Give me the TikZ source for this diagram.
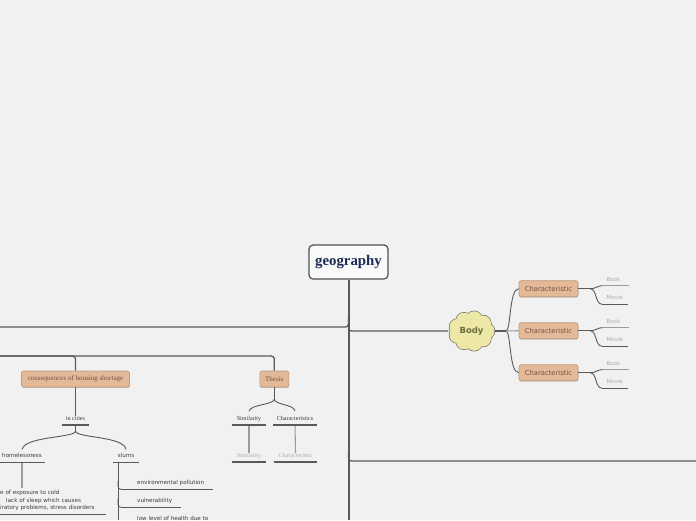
\documentclass[tikz,border=0pt]{standalone}
\usepackage{fontspec}
\setmainfont{Liberation Serif}
\setsansfont{DejaVu Sans}
\usetikzlibrary{shadows}
\definecolor{bg}{HTML}{F1F1F1}
\definecolor{linec}{HTML}{565B59}
\definecolor{lightc}{HTML}{9A9C9B}
\definecolor{tanfill}{HTML}{E3B998}
\definecolor{tanline}{HTML}{BF9A7C}
\definecolor{tantext}{HTML}{725243}
\definecolor{cloudfill}{HTML}{EDE8A6}
\definecolor{cloudtext}{HTML}{6E6A3C}
\definecolor{navy}{HTML}{1C2A56}
\definecolor{dtext}{HTML}{3A3A3A}
\definecolor{gtext}{HTML}{ABABAB}
\begin{document}
\begin{tikzpicture}[x=1pt,y=-1pt,
 conn/.style={draw=linec,line width=1.3pt},
 trunkline/.style={draw=linec,line width=2pt},
 thinline/.style={draw=linec,line width=0.9pt},
 ulline/.style={draw=linec,line width=1.1pt},
 ullight/.style={draw=lightc,line width=1.1pt},
 geonode/.style={rectangle,rounded corners=4pt,draw=linec!90!black,line width=1.2pt,fill=white!60!bg,minimum width=79pt,minimum height=34pt,inner sep=0pt,font=\bfseries\fontsize{14.8}{16}\selectfont,text=navy},
 cloudnode/.style={circle,minimum size=40pt,inner sep=0pt,font=\sffamily\bfseries\fontsize{8.5}{10}\selectfont,text=cloudtext},
 tanbox/.style={rectangle,rounded corners=2pt,fill=tanfill,draw=tanline,line width=0.6pt,inner sep=0pt,text=tantext,drop shadow={shadow xshift=0.3pt,shadow yshift=-0.9pt,opacity=0.3,fill=black!70}},
 charbox/.style={tanbox,minimum width=59pt,minimum height=16pt,font=\sffamily\fontsize{6.8}{7}\selectfont},
 lbl/.style={inner xsep=0pt,inner ysep=0pt,text height=4pt,text depth=4.5pt,anchor=south},
 sansS/.style={font=\sffamily\fontsize{5.6}{6}\selectfont,text=dtext},
 serifS/.style={font=\fontsize{6.1}{6.5}\selectfont,text=dtext},
 bm/.style={lbl,font=\sffamily\fontsize{5.4}{6}\selectfont,text=gtext,anchor=south west,align=left,text width=26pt}
]
\useasboundingbox (0,0) rectangle (696,520);
\fill[bg] (0,0) rectangle (696,520);

% central topic and trunk
\node[geonode] (geo) at (348.5,262) {geography};
\coordinate (tend) at (348.5,520);
\draw[trunkline] (geo.south) -- (tend);

\coordinate (l1) at (0,327);
\coordinate (t1) at (348.5,318);
\draw[conn,rounded corners=3pt] (l1) -| (t1);

% cloud "Body"
\foreach \a in {0,40,...,320}
  \draw[draw=linec,line width=1.1pt,fill=cloudfill] ({471.5+15*cos(\a)},{331+12*sin(\a)}) circle[radius=8pt];
\foreach \a in {0,40,...,320}
  \fill[cloudfill] ({471.5+15*cos(\a)},{331+12*sin(\a)}) circle[radius=8pt];
\fill[cloudfill] (471.5,331) ellipse[x radius=16pt,y radius=13pt];
\node[cloudnode] (body) at (471.5,331) {Body};

\coordinate (t2) at (348.5,324);
\draw[conn,rounded corners=3pt] (t2) |- ([xshift=-3pt]body.west);

\coordinate (t3) at (348.5,452);
\coordinate (r1) at (696,461);
\draw[conn,rounded corners=3pt] (t3) |- (r1);

% Body branch
\coordinate (bb) at (506,331);
\draw[conn] ([xshift=3pt]body.east) -- (bb);
\foreach \i/\y in {1/288.7,2/330.7,3/372.7}{
  \node[charbox] (ch\i) at (548.5,\y) {Characteristic};
  \coordinate (cb\i) at (590,\y);
  \node[bm] (bk\i) at (603,\y-3) {\hspace*{3.5pt}Book};
  \node[bm] (mv\i) at (602,\y+15.5) {\hspace*{4.5pt}Movie};
  \draw[conn] (ch\i.east) -- (cb\i);
  \draw[thinline] (cb\i) .. controls (597,\y) and (596,\y-3) .. (bk\i.south west);
  \draw[thinline] (cb\i) .. controls (597,\y) and (595,\y+15.5) .. (mv\i.south west);
  \draw[ullight] (bk\i.south west) -- (bk\i.south east);
  \draw[ulline] (mv\i.south west) -- (mv\i.south east);
}
\draw[thinline] (bb) .. controls (511,331) and (509,288.7) .. (ch1.west);
\draw[thinline] (bb) .. controls (511,331) and (509,372.7) .. (ch3.west);
\draw[draw=lightc,line width=1.1pt] (bb) -- (ch2.west);

% left branch
\coordinate (l2) at (0,356);
\node[tanbox,minimum width=108pt,minimum height=16pt,font=\fontsize{7}{8}\selectfont] (cons) at (75.5,379) {consequences of housing shortage};
\node[tanbox,minimum width=29pt,minimum height=16pt,font=\fontsize{7}{8}\selectfont] (thesis) at (274.3,379) {Thesis};
\draw[conn,rounded corners=3pt] (l2) -| (cons.north);
\draw[conn,rounded corners=3pt] (l2) -| (thesis.north);

\node[lbl,serifS,minimum width=27pt] (inc) at (75.5,425) {in cities};
\draw[conn] (cons.south) -- (inc.north);
\node[lbl,sansS,minimum width=46pt] (home) at (22,462.3) {homelessness};
\node[lbl,sansS,minimum width=26pt] (slums) at (126,462.3) {slums};
\coordinate (ib) at (75.5,431);
\draw[thinline] (inc.south) -- (ib);
\draw[thinline] (ib) .. controls (75.5,438) and (25,436) .. ([yshift=4pt]home.north);
\draw[thinline] (ib) .. controls (75.5,438) and (124,436) .. ([yshift=4pt]slums.north);

\node[sansS,font=\sffamily\fontsize{5.6}{7.5}\selectfont,align=left,text width=106pt,inner xsep=0pt,inner ysep=3pt,anchor=north west] (risk) at (0,487.5) {e of exposure to cold\\\hspace*{6pt}lack of sleep which causes\\iratory problems, stress disorders};
\draw[draw=lightc,line width=1.1pt] (home.south) -- (home.south |- risk.north);
\draw[ulline] (risk.south west) -- (risk.south east);

\coordinate (sv) at (118,462.3);
\coordinate (se) at (118,520);
\draw[thinline] (sv) -- (se);
\node[lbl,sansS,anchor=south west,align=left,text width=92pt] (env) at (121,489.3) {\hspace*{16pt}environmental pollution};
\node[lbl,sansS,anchor=south west,align=left,text width=60pt] (vul) at (121,507.3) {\hspace*{16pt}vulnerability};
\node[sansS,anchor=base west,inner sep=0pt] (low) at (137,520.5) {low level of health due to};
\coordinate (s1) at (118,481);
\coordinate (s2) at (118,499);
\draw[thinline,rounded corners=3pt] (s1) |- (env.south west);
\draw[thinline,rounded corners=3pt] (s2) |- (vul.south west);

% thesis branch
\node[lbl,serifS,minimum width=34pt] (sim) at (249,425) {Similarity};
\node[lbl,serifS,minimum width=44pt] (chars) at (295,425) {Characteristics};
\coordinate (tb) at (274.3,399);
\draw[conn] (thesis.south) -- (tb);
\draw[thinline] (tb) .. controls (274.3,405) and (251,404) .. ([yshift=5pt]sim.north);
\draw[thinline] (tb) .. controls (274.3,405) and (294,404) .. ([yshift=5pt]chars.north);
\node[lbl,serifS,text=gtext,minimum width=34pt] (sim2) at (249,462) {Similarity};
\node[lbl,serifS,text=gtext,minimum width=43pt] (char2) at (295.5,462) {Characteristic};
\draw[draw=lightc,line width=1.1pt] (sim.south) -- (sim2.north);
\draw[draw=lightc,line width=1.1pt] (chars.south) -- (char2.north);

\foreach \n in {inc,home,slums,sim,chars,sim2,char2,env,vul}
  \draw[ulline] (\n.south west) -- (\n.south east);
\end{tikzpicture}
\end{document}
